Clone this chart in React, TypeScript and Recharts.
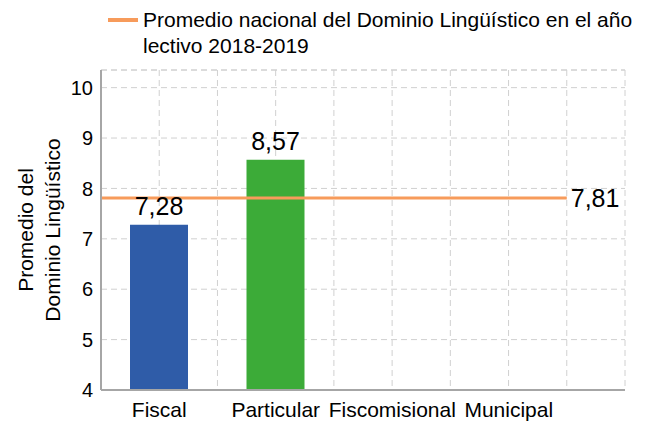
import { ComposedChart, Bar, Line, XAxis, YAxis, CartesianGrid, ReferenceLine, LabelList, Cell } from "recharts";

const categories = ["Fiscal", "Particular", "Fiscomisional", "Municipal"];
const scores: (number | null)[] = [7.28, 8.57, null, null];
const barColors = ["#2f5ca8", "#3cab38", "#2f5ca8", "#2f5ca8"];
const nationalAvg = 7.81;
const avgSpan = [0, 8];
const yTicks = [4, 5, 6, 7, 8, 9, 10];
const yTop = 10.35;
const legendText = "Promedio nacional del Dominio Lingüístico en el año lectivo 2018-2019";

const barData = categories.map((name, i) => ({ name, score: scores[i] }));
const lineData = avgSpan.map((x) => ({ x, avg: nationalAvg }));

const FONT = "'Liberation Sans', Arial, sans-serif";
const comma = (v: any) => (v == null ? "" : Number(v).toFixed(2).replace(".", ","));

const YLabel = ({ viewBox }: any) => {
  const cy = viewBox.y + viewBox.height / 2;
  return (
    <text transform={`translate(0, ${cy}) rotate(-90)`} textAnchor="middle" fontSize={21} fill="#000" fontFamily={FONT}>
      <tspan x={0} y={33}>Promedio del</tspan>
      <tspan x={0} y={60}>Dominio Lingüístico</tspan>
    </text>
  );
};

const AvgLabel = (p: any) => {
  if (p.index !== avgSpan.length - 1) return null;
  return (
    <text x={p.x + 4} y={p.y} dominantBaseline="central" fontSize={25} fill="#000" fontFamily={FONT}>
      {comma(p.value)}
    </text>
  );
};

export default function App() {
  return (
    <div style={{ position: "absolute", left: 0, top: 0, width: 657, height: 423, background: "#fff", fontFamily: FONT }}>
      <div style={{ position: "absolute", left: 108, top: 7, width: 540, display: "flex", alignItems: "flex-start" }}>
        <div style={{ width: 30, height: 4, background: "#f79b5b", marginTop: 11, flexShrink: 0 }} />
        <div style={{ marginLeft: 5, fontSize: 21, lineHeight: "26px", color: "#000" }}>{legendText}</div>
      </div>
      <ComposedChart width={657} height={423} data={barData} margin={{ top: 70, right: 32, bottom: 0, left: 0 }}>
        <CartesianGrid
          stroke="#d0d0d0"
          strokeDasharray="6 4"
          verticalCoordinatesGenerator={({ offset }: any) =>
            Array.from({ length: 10 }, (_, i) => offset.left + (i * offset.width) / 9)
          }
        />
        <ReferenceLine y={yTop} stroke="#d0d0d0" strokeDasharray="6 4" />
        <XAxis
          dataKey="name"
          height={33}
          padding={{ left: 0, right: 58 }}
          axisLine={{ stroke: "#a6a6a6", strokeWidth: 2 }}
          tickLine={false}
          tick={{ fontSize: 21, fill: "#000", fontFamily: FONT }}
          interval={0}
          dy={4}
        />
        <XAxis xAxisId="line" type="number" dataKey="x" domain={[0, 9]} hide />
        <YAxis
          width={101}
          domain={[4, yTop]}
          ticks={yTicks}
          allowDataOverflow
          axisLine={{ stroke: "#a6a6a6", strokeWidth: 2 }}
          tickLine={false}
          tick={{ fontSize: 20, fill: "#000", fontFamily: FONT }}
          label={{ content: YLabel }}
        />
        <Bar dataKey="score" barSize={58} isAnimationActive={false}>
          {barData.map((d, i) => (
            <Cell key={d.name} fill={barColors[i]} />
          ))}
          <LabelList dataKey="score" position="top" offset={10} formatter={comma} fontSize={25} fill="#000" fontFamily={FONT} />
        </Bar>
        <Line
          xAxisId="line"
          data={lineData}
          dataKey="avg"
          stroke="#f79b5b"
          strokeWidth={3}
          dot={false}
          label={AvgLabel}
          isAnimationActive={false}
        />
      </ComposedChart>
    </div>
  );
}
